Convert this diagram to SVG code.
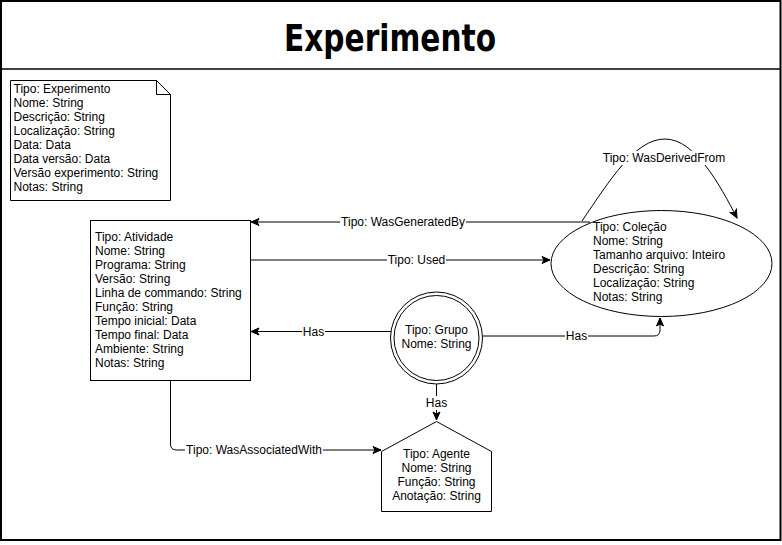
<svg xmlns="http://www.w3.org/2000/svg" width="782" height="545" viewBox="0 0 782 545">
<style>
.t{font-family:"Liberation Sans",Arial,sans-serif;font-size:12px;fill:#000}
.c{text-anchor:middle}
.lb{font-family:"Liberation Sans",Arial,sans-serif;font-size:12px;fill:#000;text-anchor:middle;dominant-baseline:central}
.s{fill:#fff;stroke:#000;stroke-width:1}
.e{fill:none;stroke:#000;stroke-width:1}
.bg{fill:#fff}
</style>
<defs>
<marker id="a" markerUnits="userSpaceOnUse" markerWidth="10" markerHeight="10" viewBox="0 0 10 10" refX="9" refY="5" orient="auto">
<path d="M1,1.5 L9,5 L1,8.5 L3,5 Z" fill="#000" stroke="#000" stroke-width="1"/>
</marker>
</defs>
<rect width="782" height="545" fill="#fff"/>
<g id="frame">
<rect x="1" y="1" width="779.5" height="539" fill="none" stroke="#000" stroke-width="2"/>
<line x1="1" y1="69" x2="780.5" y2="69" stroke="#000" stroke-width="1.5"/>
<text x="390" y="51" font-family="'DejaVu Sans',sans-serif" font-weight="bold" font-size="38" text-anchor="middle" textLength="212" lengthAdjust="spacingAndGlyphs">Experimento</text>
</g>
<g id="experimento">
<path class="s" d="M10.5,80.5 H156.5 L170.5,94.5 V200.5 H10.5 Z"/>
<path class="e" d="M156.5,80.5 V94.5 H170.5"/>
<text class="t" x="13.5" y="92.5">Tipo: Experimento</text>
<text class="t" x="13.5" y="106.5">Nome: String</text>
<text class="t" x="13.5" y="120.5">Descrição: String</text>
<text class="t" x="13.5" y="134.5">Localização: String</text>
<text class="t" x="13.5" y="148.5">Data: Data</text>
<text class="t" x="13.5" y="162.5">Data versão: Data</text>
<text class="t" x="13.5" y="176.5">Versão experimento: String</text>
<text class="t" x="13.5" y="190.5">Notas: String</text>
</g>
<g id="connectors">
<path class="e" d="M590,222 L251,222" marker-end="url(#a)"/>
<path class="e" d="M251,260 L550,260" marker-end="url(#a)"/>
<path class="e" d="M391,331.5 L251,331.5" marker-end="url(#a)"/>
<path class="e" d="M483,336 L654,336 Q660,336 660,330 L660,318" marker-end="url(#a)"/>
<path class="e" d="M436.5,384 L436.5,420" marker-end="url(#a)"/>
<path class="e" d="M170.5,381 L170.5,444 Q170.5,450 176.5,450 L381,450" marker-end="url(#a)"/>
<path class="e" d="M582,221 C610,180 635,139 665,139 C695,139 720,185 737,218" marker-end="url(#a)"/>
<rect class="bg" x="340" y="215" width="126" height="14"/>
<text class="lb" x="403" y="222">Tipo: WasGeneratedBy</text>
<rect class="bg" x="387" y="253" width="59" height="14"/>
<text class="lb" x="416.5" y="260">Tipo: Used</text>
<rect class="bg" x="302" y="325" width="23" height="14"/>
<text class="lb" x="313.5" y="331.5">Has</text>
<rect class="bg" x="565" y="329" width="23" height="14"/>
<text class="lb" x="576.5" y="336">Has</text>
<rect class="bg" x="425" y="396" width="23" height="14"/>
<text class="lb" x="436.5" y="403">Has</text>
<rect class="bg" x="185" y="443" width="138" height="14"/>
<text class="lb" x="254" y="450">Tipo: WasAssociatedWith</text>
<rect class="bg" x="602" y="151" width="124" height="14"/>
<text class="lb" x="664" y="158">Tipo: WasDerivedFrom</text>
</g>
<g id="atividade">
<rect class="s" x="90.5" y="220.5" width="160" height="160"/>
<text class="t" x="95" y="240.5">Tipo: Atividade</text>
<text class="t" x="95" y="254.5">Nome: String</text>
<text class="t" x="95" y="268.5">Programa: String</text>
<text class="t" x="95" y="282.5">Versão: String</text>
<text class="t" x="95" y="296.5">Linha de commando: String</text>
<text class="t" x="95" y="310.5">Função: String</text>
<text class="t" x="95" y="324.5">Tempo inicial: Data</text>
<text class="t" x="95" y="338.5">Tempo final: Data</text>
<text class="t" x="95" y="352.5">Ambiente: String</text>
<text class="t" x="95" y="366.5">Notas: String</text>
</g>
<g id="colecao">
<ellipse class="s" cx="661.5" cy="263.5" rx="110.5" ry="53"/>
<text class="t" x="593" y="231">Tipo: Coleção</text>
<text class="t" x="593" y="245">Nome: String</text>
<text class="t" x="593" y="259">Tamanho arquivo: Inteiro</text>
<text class="t" x="593" y="273">Descrição: String</text>
<text class="t" x="593" y="287">Localização: String</text>
<text class="t" x="593" y="301">Notas: String</text>
</g>
<g id="grupo">
<circle class="s" cx="436.5" cy="338" r="46"/>
<circle class="e" cx="436.5" cy="338" r="42.5"/>
<text class="t c" x="436.5" y="333.5">Tipo: Grupo</text>
<text class="t c" x="436.5" y="347.5">Nome: String</text>
</g>
<g id="agente">
<path class="s" d="M436.5,421.5 L491.5,451.5 V511.5 H381.5 V451.5 Z"/>
<text class="t c" x="436.5" y="457.5">Tipo: Agente</text>
<text class="t c" x="436.5" y="471.5">Nome: String</text>
<text class="t c" x="436.5" y="485.5">Função: String</text>
<text class="t c" x="436.5" y="499.5">Anotação: String</text>
</g>
</svg>
